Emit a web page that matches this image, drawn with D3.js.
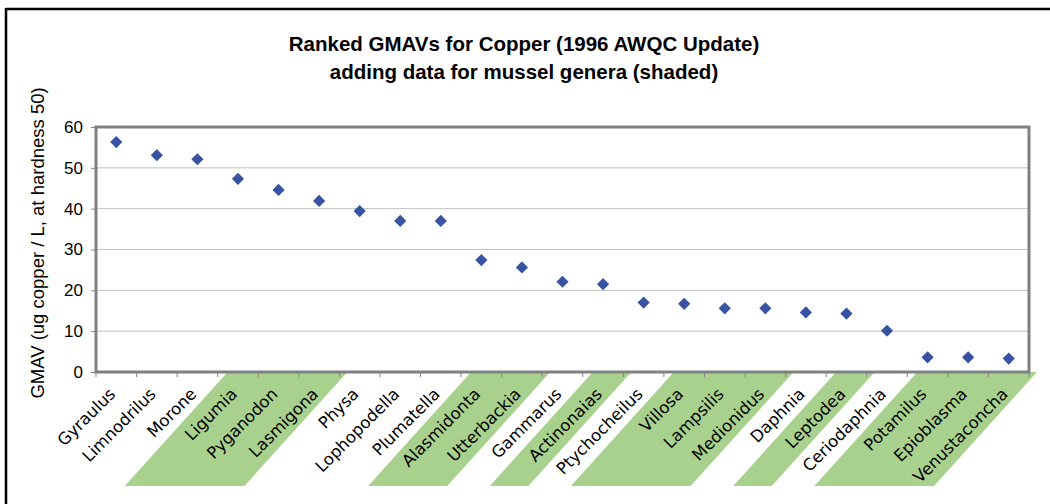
<!DOCTYPE html>
<html><head><meta charset="utf-8">
<script src="https://cdn.jsdelivr.net/npm/d3@7"></script>
<style>body{margin:0;background:#fff}svg{display:block}</style>
</head><body>
<script>
const categories = ["Gyraulus","Limnodrilus","Morone","Ligumia","Pyganodon","Lasmigona","Physa","Lophopodella","Plumatella","Alasmidonta","Utterbackia","Gammarus","Actinonaias","Ptychocheilus","Villosa","Lampsilis","Medionidus","Daphnia","Leptodea","Ceriodaphnia","Potamilus","Epioblasma","Venustaconcha"];
const gmav = [56.3,53.1,52.1,47.3,44.6,41.9,39.4,37.0,37.0,27.4,25.6,22.1,21.5,17.0,16.7,15.6,15.6,14.6,14.3,10.1,3.6,3.6,3.3];
const mussel = [false,false,false,true,true,true,false,false,false,true,true,false,true,false,true,true,true,false,true,false,true,true,true];
const yTicks = [0,10,20,30,40,50,60];
const titleLines = ["Ranked GMAVs for Copper (1996 AWQC Update)","adding data for mussel genera (shaded)"];
const yTitle = "GMAV (ug copper / L, at hardness 50)";

const W = 1050, H = 504;
const svg = d3.select("body").append("svg").attr("width", W).attr("height", H);
const m = {left: 96, right: 1029, top: 127, bottom: 372};

const x = d3.scaleBand().domain(categories).range([m.left, m.right]).padding(0);
const y = d3.scaleLinear().domain([0, 60]).range([m.bottom, m.top]);
const bw = x.bandwidth();

// outer frame lines
svg.append("line").attr("x1", 6).attr("x2", W).attr("y1", 9).attr("y2", 9).attr("stroke", "#000").attr("stroke-width", 2.5);
svg.append("line").attr("x1", 6).attr("x2", 6).attr("y1", 8).attr("y2", H).attr("stroke", "#000").attr("stroke-width", 2.5);

// shading for mussel genera runs
const runs = [];
categories.forEach((c, i) => {
  if (mussel[i]) {
    if (runs.length && runs[runs.length - 1].end === i - 1) runs[runs.length - 1].end = i;
    else runs.push({start: i, end: i});
  }
});
const shadeBottom = 486, shift = 103;
svg.append("g").selectAll("path").data(runs).join("path")
  .attr("d", r => {
    const x0 = x(categories[r.start]) + 10, x1 = x(categories[r.end]) + bw + 8;
    return `M${x0},${m.bottom}L${x1},${m.bottom}L${x1 - shift},${shadeBottom}L${x0 - shift},${shadeBottom}Z`;
  })
  .attr("fill", "#a9d18e");

// gridlines
svg.append("g").selectAll("line").data(yTicks.filter(t => t > 0 && t < 60)).join("line")
  .attr("x1", m.left).attr("x2", m.right).attr("y1", d => y(d)).attr("y2", d => y(d))
  .attr("stroke", "#c0c0c0").attr("stroke-width", 1);

// plot frame
svg.append("rect").attr("x", m.left).attr("y", m.top).attr("width", m.right - m.left).attr("height", m.bottom - m.top)
  .attr("fill", "none").attr("stroke", "#808080").attr("stroke-width", 3);

// y axis
const yAxis = svg.append("g").attr("transform", `translate(${m.left},0)`)
  .call(d3.axisLeft(y).tickValues(yTicks).tickSize(5).tickPadding(8));
yAxis.select(".domain").remove();
yAxis.selectAll(".tick line").attr("stroke", "#808080");
yAxis.selectAll(".tick text").attr("font-family", "Liberation Sans, Arial, sans-serif").attr("font-size", 17).attr("fill", "#000");

// x axis ticks
const xAxis = svg.append("g").attr("transform", `translate(0,${m.bottom})`)
  .call(d3.axisBottom(x).tickSize(0).tickFormat(""));
xAxis.select(".domain").remove();
const edges = categories.map(c => x(c)).concat([m.right]);
svg.append("g").selectAll("line").data(edges).join("line")
  .attr("x1", d => d).attr("x2", d => d).attr("y1", m.bottom).attr("y2", m.bottom + 5)
  .attr("stroke", "#808080").attr("stroke-width", 1);

// x labels
svg.append("g").selectAll("text").data(categories).join("text")
  .attr("transform", d => `translate(${x(d) + bw / 2 - 4},${m.bottom + 19}) rotate(-45)`)
  .attr("text-anchor", "end").attr("dy", "0.35em")
  .attr("font-family", "DejaVu Sans, sans-serif").attr("font-size", 16.5).attr("fill", "#000")
  .text(d => d);

// points
svg.append("g").selectAll("path").data(categories).join("path")
  .attr("d", d3.symbol().type(d3.symbolDiamond2).size(95))
  .attr("transform", (d, i) => `translate(${x(d) + bw / 2},${y(gmav[i])})`)
  .attr("fill", "#3953a4");

// titles
svg.append("g").selectAll("text").data(titleLines).join("text")
  .attr("x", 524).attr("y", (d, i) => 51 + i * 28)
  .attr("text-anchor", "middle").attr("font-family", "Liberation Sans, Arial, sans-serif")
  .attr("font-weight", "bold").attr("font-size", 20.5).attr("fill", "#000")
  .text(d => d);

svg.append("text").attr("transform", "translate(44,243) rotate(-90)")
  .attr("text-anchor", "middle").attr("font-family", "Liberation Sans, Arial, sans-serif")
  .attr("font-size", 18.5).attr("fill", "#000").text(yTitle);
</script>
</body></html>
